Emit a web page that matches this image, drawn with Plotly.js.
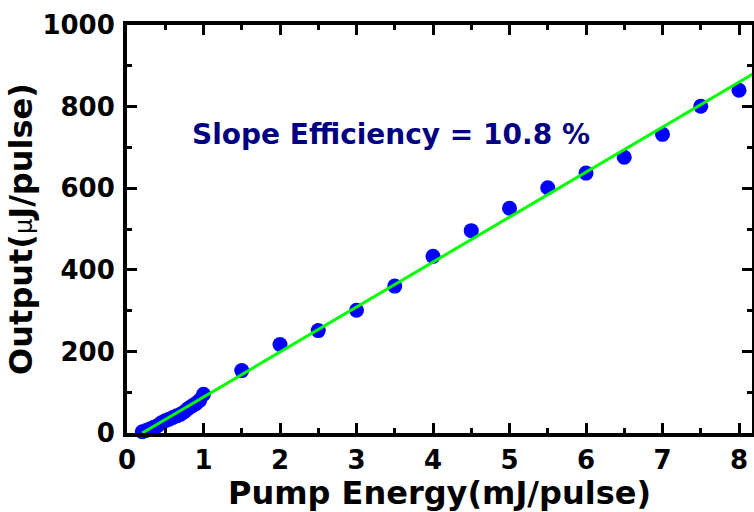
<!DOCTYPE html>
<html>
<head>
<meta charset="utf-8">
<script src="https://cdn.plot.ly/plotly-3.0.1.min.js"></script>
<style>html,body{margin:0;padding:0;background:#fff;}#chart{width:754px;height:512px;}</style>
</head>
<body>
<div id="chart"></div>
<script>
// Measured data (pump energy mJ/pulse vs output µJ/pulse)
const pumpEnergy = [0.2, 0.25, 0.3, 0.35, 0.4, 0.45, 0.5, 0.55, 0.6, 0.65, 0.7, 0.75, 0.8, 0.85, 0.9, 0.95, 1.0,
                    1.5, 2.0, 2.5, 3.0, 3.5, 4.0, 4.5, 5.0, 5.5, 6.0, 6.5, 7.0, 7.5, 8.0];
const outputEnergy = [3, 6, 10, 14, 18, 25, 30, 34, 38, 42, 46, 52, 60, 66, 72, 80, 95,
                      153, 217, 251, 301, 360, 433, 496, 551, 601, 637, 676, 732, 801, 840];
// Linear fit line endpoints
const fitX = [0.2, 8.2];
const fitY = [0, 882];
const annotationText = 'Slope Efficiency = 10.8 %';
const xTitle = 'Pump Energy(mJ/pulse)';
const yTitle = 'Output(<span style="font-weight:normal;font-size:24px">μ</span>J/pulse)';

const font = 'DejaVu Sans, Arial, sans-serif';

const traces = [
  {x: pumpEnergy, y: outputEnergy, type: 'scatter', mode: 'markers',
   marker: {color: '#0000ff', size: 15, line: {width: 0}}, cliponaxis: false, hoverinfo: 'skip'},
  {x: fitX, y: fitY, type: 'scatter', mode: 'lines',
   line: {color: '#00ff00', width: 3}, cliponaxis: true, hoverinfo: 'skip'}
];

const axisCommon = {
  showgrid: false, zeroline: false,
  showline: true, linecolor: '#000', linewidth: 4, mirror: 'allticks',
  ticks: 'inside', ticklen: 10, tickwidth: 3, tickcolor: '#000',
  tickfont: {family: font, size: 26, color: '#000', weight: 'bold'}
};

const layout = {
  width: 754, height: 512,
  margin: {l: 127, r: 2, t: 25, b: 79, pad: 0},
  paper_bgcolor: '#fff', plot_bgcolor: '#fff',
  showlegend: false,
  font: {family: font},
  xaxis: Object.assign({}, axisCommon, {
    range: [0, 8.17], dtick: 1, tick0: 0,
    minor: {dtick: 0.5, ticks: 'inside', ticklen: 5, tickwidth: 3, tickcolor: '#000'},
    ticklabelstandoff: 1,
    title: {text: xTitle, font: {family: font, size: 32, color: '#000', weight: 'bold'}, standoff: 0}
  }),
  yaxis: Object.assign({}, axisCommon, {
    range: [0, 1000], dtick: 200, tick0: 0,
    minor: {dtick: 100, ticks: 'inside', ticklen: 5, tickwidth: 3, tickcolor: '#000'},
    ticklabelstandoff: 3,
    title: {text: yTitle, font: {family: font, size: 32, color: '#000', weight: 'bold'}, standoff: 1}
  }),
  annotations: [{
    text: annotationText, xref: 'x', yref: 'y', x: 3.45, y: 732,
    xanchor: 'center', yanchor: 'middle', showarrow: false,
    font: {family: font, size: 28, color: '#000080', weight: 'bold'}
  }]
};

Plotly.newPlot('chart', traces, layout, {staticPlot: true, displayModeBar: false});
</script>
</body>
</html>
